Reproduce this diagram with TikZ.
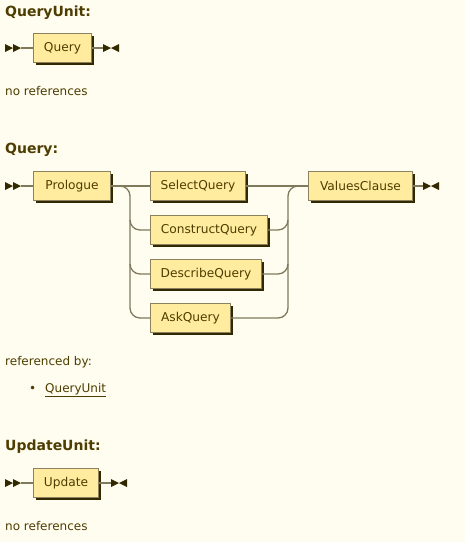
\documentclass[tikz,border=0pt]{standalone}
\usepackage{fontspec}
\setmainfont{DejaVu Sans}
\usetikzlibrary{shadows}
\definecolor{paper}{HTML}{FFFCF0}
\definecolor{boxfill}{HTML}{FFEC9E}
\definecolor{boxline}{HTML}{8C8260}
\definecolor{darkshade}{HTML}{332900}
\definecolor{rail}{HTML}{807A5C}
\definecolor{ink}{HTML}{4D3D00}
\tikzset{
  nonterm/.style={draw=boxline, fill=boxfill, line width=1pt, text=ink,
    font=\fontsize{12.2}{14}\selectfont, minimum height=29pt, inner sep=0pt, anchor=west,
    general shadow={shadow xshift=2pt, shadow yshift=-2pt, fill=darkshade}},
  railline/.style={draw=rail, line width=1.3pt},
  heading/.style={anchor=base west, inner sep=0pt, text=ink, font=\bfseries\fontsize{14}{16}\selectfont},
  plain/.style={anchor=base west, inner sep=0pt, text=ink, font=\fontsize{12}{14}\selectfont},
  railstart/.pic={\fill[darkshade] (0,4) -- (8,0) -- (0,-4) -- cycle (8,4) -- (16,0) -- (8,-4) -- cycle;},
  railend/.pic={\fill[darkshade] (0,4) -- (8,0) -- (0,-4) -- cycle (16,4) -- (8,0) -- (16,-4) -- cycle;},
}
\begin{document}
\begin{tikzpicture}[x=1pt, y=1pt]
\fill[paper] (0,0) rectangle (465,-542);
\useasboundingbox (0,0) rectangle (465,-542);

% QueryUnit
\node[heading] (h1) at (5,-16) {QueryUnit:};
\pic at (5,-48) {railstart};
\coordinate (s1) at (21,-48);
\node[nonterm, minimum width=58pt] (query) at (33,-48) {Query};
\coordinate (e1) at (103,-48);
\pic at (e1) {railend};
\draw[railline] (s1) -- (query.west);
\draw[railline] (query.east) -- (e1);
\node[plain] (n1) at (5,-95) {no references};

% Query
\node[heading] (h2) at (5,-153) {Query:};
\pic at (5,-186) {railstart};
\coordinate (s2) at (21,-186);
\node[nonterm, minimum width=77pt] (prologue) at (33,-186) {Prologue};
\node[nonterm, minimum width=95pt] (select) at (150,-186) {SelectQuery};
\node[nonterm, minimum width=117pt] (construct) at (150,-230) {ConstructQuery};
\node[nonterm, minimum width=111pt] (describe) at (150,-274) {DescribeQuery};
\node[nonterm, minimum width=80pt] (ask) at (150,-318) {AskQuery};
\node[nonterm, minimum width=104pt] (values) at (308,-186) {ValuesClause};
\coordinate (e2) at (423,-186);
\pic at (e2) {railend};
\draw[railline] (s2) -- (prologue.west);
\draw[railline] (prologue.east) -- (select.west);
\draw[railline] (120,-186) arc[start angle=90, end angle=0, radius=10] -- (130,-308)
  arc[start angle=180, end angle=270, radius=10] -- (ask.west);
\draw[railline] (130,-220) arc[start angle=180, end angle=270, radius=10] -- (construct.west);
\draw[railline] (130,-264) arc[start angle=180, end angle=270, radius=10] -- (describe.west);
\draw[railline] (ask.east) -- (278,-318) arc[start angle=270, end angle=360, radius=10]
  -- (288,-196) arc[start angle=180, end angle=90, radius=10] -- (values.west);
\draw[railline] (construct.east) -- (278,-230) arc[start angle=270, end angle=360, radius=10];
\draw[railline] (describe.east) -- (278,-274) arc[start angle=270, end angle=360, radius=10];
\draw[railline] (select.east) -- (values.west);
\draw[railline] (values.east) -- (e2);
\node[plain] (r2) at (5,-365) {referenced by:};
\node[plain] (dot) at (29,-392) {•};
\node[plain] (l2) at (45,-392) {\underline{QueryUnit}};

% UpdateUnit
\node[heading] (h3) at (5,-450) {UpdateUnit:};
\pic at (5,-483) {railstart};
\coordinate (s3) at (21,-483);
\node[nonterm, minimum width=65pt] (update) at (33,-483) {Update};
\coordinate (e3) at (111,-483);
\pic at (e3) {railend};
\draw[railline] (s3) -- (update.west);
\draw[railline] (update.east) -- (e3);
\node[plain] (n3) at (5,-530) {no references};
\end{tikzpicture}
\end{document}
